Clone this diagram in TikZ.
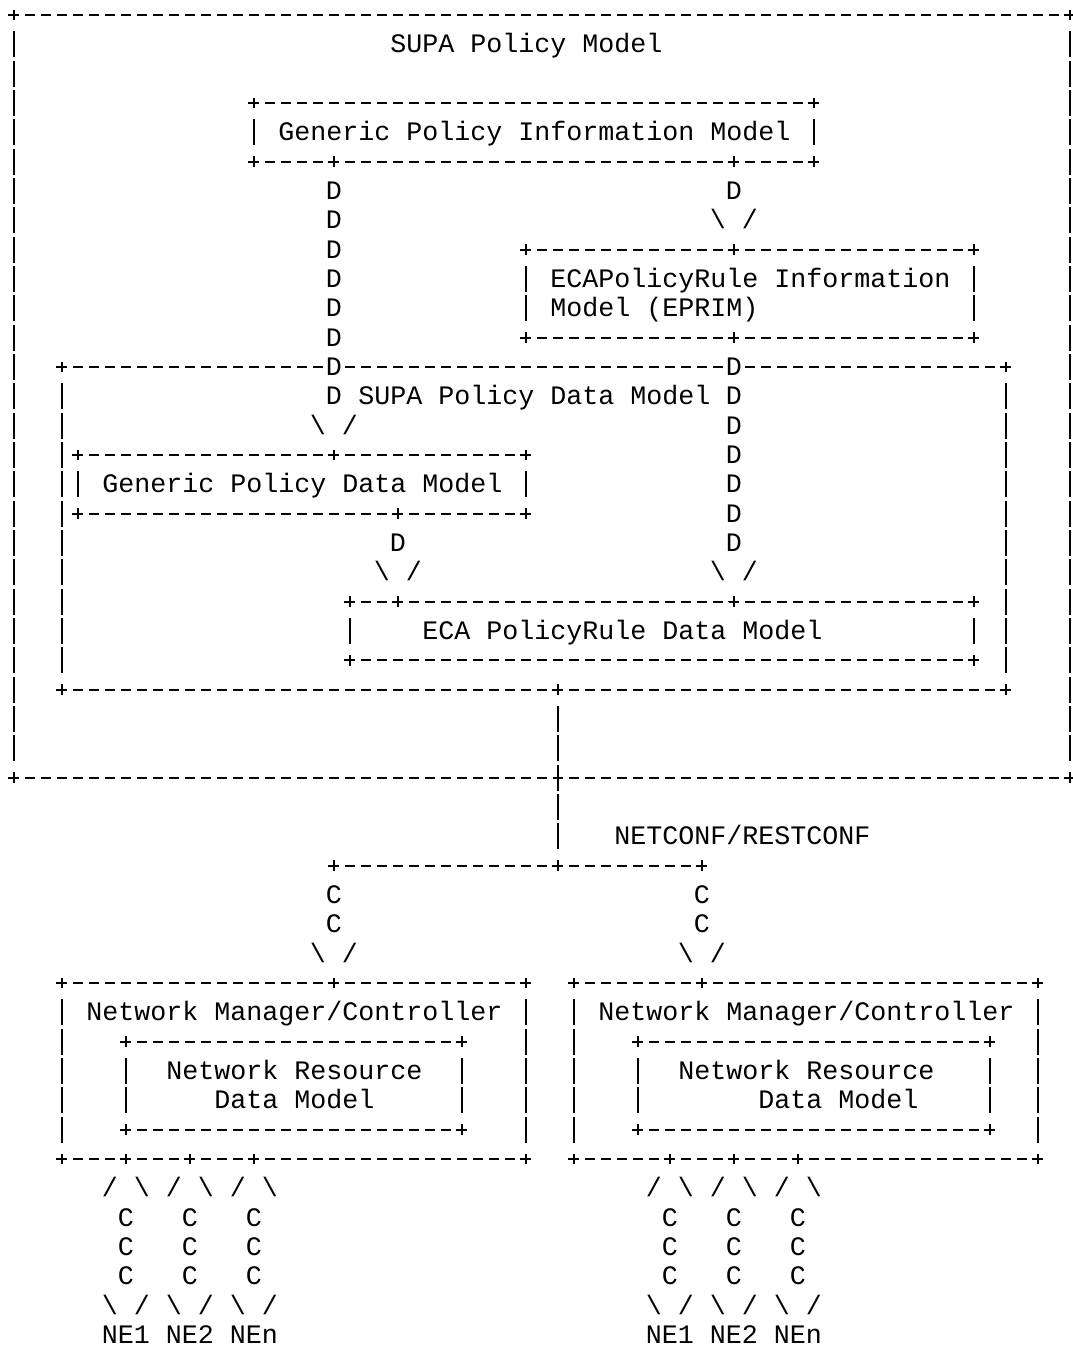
\documentclass[tikz,border=0pt]{standalone}
\usepackage{fontspec}
\newfontfamily\mono{Liberation Mono}
\usetikzlibrary{decorations.markings}
\newcommand\vdn{\textbackslash\hspace{6pt}/}
\newcommand\vup{/\hspace{6pt}\textbackslash}

\begin{document}
\begin{tikzpicture}[x=6pt,y=-11pt,font=\mono,
  glyph/.style={inner sep=0pt,text height=6.4pt,text depth=0pt},
  lbl/.style={glyph,anchor=west},
  box/.style={inner sep=0pt,outer sep=0pt},
  hrule/.style={line width=0.65pt,dash pattern=on 3.75pt off 2.25pt,dash phase=1.875pt},
  vrule/.style={line width=0.65pt,dash pattern=on 9.75pt off 1.25pt},
  plus/.pic={\draw[line width=0.65pt] (-2pt,0) -- (2pt,0) (0,-2pt) -- (0,2pt);},
  dlink/.style={decorate,decoration={markings,
    mark=at position 0 with {\pic{plus};},
    mark=between positions 11pt and -20pt step 11pt with {\node[glyph,fill=white]{#1};},
    mark=at position -11pt with {\node[glyph]{\vdn};},
    mark=at position 0.9999 with {\pic{plus};}}},
  nelink/.style={decorate,decoration={markings,
    mark=at position 0 with {\pic{plus};},
    mark=at position 11pt with {\node[glyph]{\vup};},
    mark=between positions 22pt and -20pt step 11pt with {\node[glyph]{C};},
    mark=at position -11pt with {\node[glyph]{\vdn};}}}]
  \useasboundingbox (-0.8625,-0.511) rectangle (66.2,45.41);

  % boxes
  \node[box,minimum width=396pt,minimum height=286pt] (supa) at (33,13) {};
  \node[box,minimum width=210pt,minimum height=22pt] (gpim) at (32.5,4) {};
  \node[box,minimum width=168pt,minimum height=33pt] (eprim) at (46,9.5) {};
  \node[box,minimum width=354pt,minimum height=121pt] (sdm) at (32.5,17.5) {};
  \node[box,minimum width=168pt,minimum height=22pt] (gpdm) at (18,16) {};
  \node[box,minimum width=234pt,minimum height=22pt] (ecadm) at (40.5,21) {};
  \node[box,minimum width=174pt,minimum height=66pt] (nmcl) at (17.5,36) {};
  \node[box,minimum width=126pt,minimum height=33pt] (nrdml) at (17.5,36.5) {};
  \node[box,minimum width=174pt,minimum height=66pt] (nmcr) at (49.5,36) {};
  \node[box,minimum width=132pt,minimum height=33pt] (nrdmr) at (50,36.5) {};
  \foreach \b in {supa,gpim,eprim,sdm,gpdm,ecadm,nmcl,nrdml,nmcr,nrdmr}{
    \draw[hrule] (\b.north west) -- (\b.north east) (\b.south west) -- (\b.south east);
    \draw[vrule] ([yshift=-6.125pt]\b.north west) -- ([yshift=6.125pt]\b.south west)
                 ([yshift=-6.125pt]\b.north east) -- ([yshift=6.125pt]\b.south east);
    \foreach \a in {north west,north east,south west,south east}
      \pic at (\b.\a) {plus};
  }

  % texts
  \node[lbl] (supalbl) at (23.5,1) {SUPA Policy Model};
  \node[lbl] (gpimlbl) at (16.5,4) {Generic Policy Information Model};
  \node[lbl] (epriml1) at (33.5,9) {ECAPolicyRule Information};
  \node[lbl] (epriml2) at (33.5,10) {Model (EPRIM)};
  \node[lbl] (sdmlbl) at (21.5,13) {SUPA Policy Data Model};
  \node[lbl] (gpdmlbl) at (5.5,16) {Generic Policy Data Model};
  \node[lbl] (ecalbl) at (25.5,21) {ECA PolicyRule Data Model};
  \node[lbl] (netconf) at (37.5,28) {NETCONF/RESTCONF};
  \node[lbl] (nmcllbl) at (4.5,34) {Network Manager/Controller};
  \node[lbl] (nrdml1) at (9.5,36) {Network Resource};
  \node[lbl] (nrdml2) at (12.5,37) {Data Model};
  \node[lbl] (nmcrlbl) at (36.5,34) {Network Manager/Controller};
  \node[lbl] (nrdmr1) at (41.5,36) {Network Resource};
  \node[lbl] (nrdmr2) at (46.5,37) {Data Model};
  \node[glyph] (ne1l) at (7,45) {NE1};
  \node[glyph] (ne2l) at (11,45) {NE2};
  \node[glyph] (nenl) at (15,45) {NEn};
  \node[glyph] (ne1r) at (41,45) {NE1};
  \node[glyph] (ne2r) at (45,45) {NE2};
  \node[glyph] (nenr) at (49,45) {NEn};

  % NETCONF/RESTCONF bus
  \coordinate (busl) at (20,29);
  \coordinate (busm) at (34,29);
  \coordinate (busr) at (43,29);
  \draw[vrule] ([xshift=186pt,yshift=-6.125pt]sdm.south west) -- ([yshift=6.125pt]busm);
  \pic at ([xshift=186pt]sdm.south west) {plus};
  \pic at (busm) {plus};
  \draw[hrule] (busl) -- (busr);

  % derived-from links
  \path[dlink=D] ([xshift=30pt]gpim.south west) -- ([xshift=96pt]gpdm.north west);
  \path[dlink=D] ([xshift=180pt]gpim.south west) -- ([xshift=78pt]eprim.north west);
  \path[dlink=D] ([xshift=78pt]eprim.south west) -- ([xshift=144pt]ecadm.north west);
  \path[dlink=D] ([xshift=120pt]gpdm.south west) -- ([xshift=18pt]ecadm.north west);

  % communication links
  \path[dlink=C] (busl) -- ([xshift=102pt]nmcl.north west);
  \path[dlink=C] (busr) -- ([xshift=48pt]nmcr.north west);
  \foreach \n/\b in {ne1l/nmcl,ne2l/nmcl,nenl/nmcl,ne1r/nmcr,ne2r/nmcr,nenr/nmcr}
    \path[nelink] (\b.south -| \n) -- (\n.center);
\end{tikzpicture}
\end{document}
